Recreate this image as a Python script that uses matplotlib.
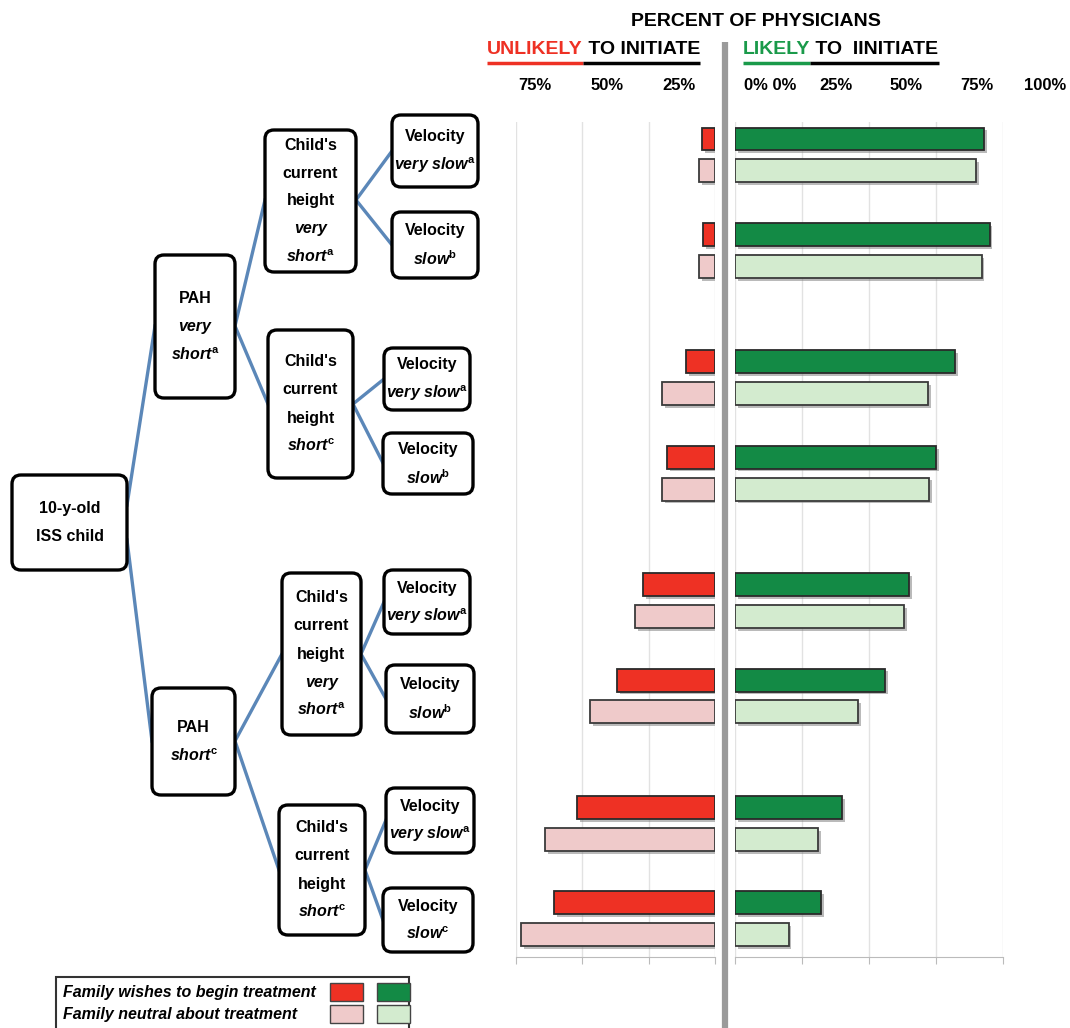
import matplotlib
matplotlib.use('Agg')
import matplotlib.pyplot as plt
import matplotlib.patheffects as pe
from matplotlib.patches import FancyBboxPatch, Rectangle

plt.rcParams['font.family'] = ['Liberation Sans', 'DejaVu Sans']
plt.rcParams['font.weight'] = 'bold'
plt.rcParams['mathtext.fontset'] = 'custom'
plt.rcParams['mathtext.rm'] = 'Liberation Sans:bold'
plt.rcParams['mathtext.it'] = 'Liberation Sans:italic:bold'
plt.rcParams['mathtext.bf'] = 'Liberation Sans:bold'

# data: percent of physicians, 8 scenarios (top to bottom)
unlikely_wish = [5, 4.5, 11, 18, 27, 37, 52, 60.5]
unlikely_neutral = [6, 6, 20, 20, 30, 47, 64, 73]
likely_wish = [93, 95, 82, 75, 65, 56, 40, 32]
likely_neutral = [90, 92, 72, 72.5, 63, 46, 31, 20]

left_ticks = ['75%', '50%', '25%']
right_ticks = ['0% 0%', '25%', '50%', '75%', '100%']
legend_labels = ['Family wishes to begin treatment', 'Family neutral about treatment']

c_red, c_pink = '#ee3124', '#efcaca'
c_dgreen, c_lgreen = '#138a45', '#d3ebcf'
c_line = '#5b87b8'

W, H = 1070, 1028
fig = plt.figure(figsize=(W / 100, H / 100), dpi=100)
bg = fig.add_axes([0, 0, 1, 1])
bg.set_xlim(0, W); bg.set_ylim(H, 0); bg.axis('off')


def rect(x0, y0, x1, y1):
    return [x0 / W, 1 - y1 / H, (x1 - x0) / W, (y1 - y0) / H]


pos = [g + 0.335 * (g // 2) for g in range(8)]
d_pos = [p - 0.167 for p in pos]
n_pos = [p + 0.167 for p in pos]
shadow = [pe.SimplePatchShadow(offset=(2, -2), shadow_rgbFace='#777777', alpha=0.5), pe.Normal()]

axl = fig.add_axes(rect(516, 122, 715, 957))
axr = fig.add_axes(rect(735, 122, 1003, 957))
for ax, lim, ticks in [(axl, (75, 0), [0, 25, 50, 75]), (axr, (0, 100), [0, 25, 50, 75, 100])]:
    ax.set_xlim(*lim)
    ax.set_ylim(pos[-1] + 0.4, -0.345)
    ax.set_xticks(ticks)
    ax.set_xticklabels([])
    ax.set_yticks([])
    ax.tick_params(axis='x', length=5, color='#bbbbbb', direction='out')
    for s in ['top', 'left', 'right']:
        ax.spines[s].set_visible(False)
    ax.spines['bottom'].set_color('#bbbbbb')
    ax.grid(axis='x', color='#e2e2e2', lw=1)
    ax.set_axisbelow(True)
    ax.patch.set_alpha(0)

for ax, a, b, ca, cb in [(axl, unlikely_wish, unlikely_neutral, c_red, c_pink),
                         (axr, likely_wish, likely_neutral, c_dgreen, c_lgreen)]:
    bars1 = ax.barh(d_pos, a, height=0.24, color=ca, edgecolor='#2a2a2a', lw=1.3)
    bars2 = ax.barh(n_pos, b, height=0.24, color=cb, edgecolor='#3a3a3a', lw=1.3)
    for bar in list(bars1) + list(bars2):
        bar.set_path_effects(shadow)

# center divider
bg.plot([725, 725], [42, H], color='#9a9a9a', lw=4.5, solid_capstyle='butt')

# header
bg.text(756, 22, 'PERCENT OF PHYSICIANS', ha='center', va='center', fontsize=14)
fig.canvas.draw()
rend = fig.canvas.get_renderer()


def header(x, parts, y=50):
    # parts: (text, colour); underline drawn below each part in its colour
    for txt, col in parts:
        t = bg.text(x, y, txt, color=col, ha='left', va='center', fontsize=14)
        bb = t.get_window_extent(rend)
        w = bb.width
        bg.plot([x, x + w], [63, 63], color=col, lw=2.5, solid_capstyle='butt')
        x += w


header(487, [('UNLIKELY', c_red), (' TO INITIATE', 'black')])
header(743, [('LIKELY', '#1a9a4a'), (' TO  IINITIATE', 'black')])

for lab, x in zip(left_ticks, [535, 607, 679]):
    bg.text(x, 85, lab, ha='center', va='center', fontsize=12)
for lab, x in zip(right_ticks, [770, 836, 906, 977, 1045]):
    bg.text(x, 85, lab, ha='center', va='center', fontsize=12)


def box(x0, y0, x1, y1, lines, step=28):
    bg.add_patch(FancyBboxPatch((x0, y0), x1 - x0, y1 - y0,
                                boxstyle='round,pad=0,rounding_size=9',
                                fc='white', ec='black', lw=2.4, zorder=3))
    cy = (y0 + y1) / 2
    top = cy - step * (len(lines) - 1) / 2
    for i, (txt, it) in enumerate(lines):
        bg.text((x0 + x1) / 2, top + i * step, txt, ha='center', va='center',
                fontsize=11.5, style='italic' if it else 'normal', zorder=4)


def link(p, q):
    bg.plot([p[0], q[0]], [p[1], q[1]], color=c_line, lw=2.4, zorder=2)


sa = '$^{\\rm a}$'
sb = '$^{\\rm b}$'
sc = '$^{\\rm c}$'

box(12, 475, 127, 570, [('10-y-old', False), ('ISS child', False)])
box(155, 255, 235, 398, [('PAH', False), ('very', True), ('short' + sa, True)])
box(152, 688, 235, 795, [('PAH', False), ('short' + sc, True)])
box(265, 130, 356, 272, [("Child's", False), ('current', False), ('height', False),
                         ('very', True), ('short' + sa, True)])
box(268, 330, 353, 478, [("Child's", False), ('current', False), ('height', False),
                         ('short' + sc, True)])
box(282, 573, 361, 735, [("Child's", False), ('current', False), ('height', False),
                         ('very', True), ('short' + sa, True)])
box(279, 805, 365, 935, [("Child's", False), ('current', False), ('height', False),
                         ('short' + sc, True)])

vel = [(392, 115, 478, 187, 'very slow' + sa), (392, 212, 478, 278, 'slow' + sb),
       (384, 348, 470, 410, 'very slow' + sa), (383, 433, 473, 494, 'slow' + sb),
       (384, 570, 470, 634, 'very slow' + sa), (386, 665, 474, 733, 'slow' + sb),
       (386, 788, 474, 853, 'very slow' + sa), (383, 888, 473, 952, 'slow' + sc)]
for x0, y0, x1, y1, s in vel:
    box(x0, y0, x1, y1, [('Velocity', False), (s, True)])

link((127, 505), (155, 326))
link((127, 540), (152, 741))
link((235, 326), (265, 200))
link((235, 326), (268, 404))
link((235, 741), (282, 654))
link((235, 741), (279, 870))
link((356, 200), (392, 151))
link((356, 200), (392, 245))
link((353, 404), (384, 379))
link((353, 404), (383, 463))
link((361, 654), (384, 602))
link((361, 654), (386, 699))
link((365, 870), (386, 820))
link((365, 870), (383, 920))

# legend
bg.add_patch(Rectangle((56, 977), 353, 60, fc='white', ec='#333333', lw=1.5, zorder=3))
for i, lab in enumerate(legend_labels):
    y = 992 + i * 22
    bg.text(63, y, lab, ha='left', va='center', fontsize=11.5, style='italic', zorder=4)
    for x, c in [(330, [c_red, c_pink][i]), (377, [c_dgreen, c_lgreen][i])]:
        bg.add_patch(Rectangle((x, y - 9), 33, 18, fc=c, ec='#444444', lw=1, zorder=4))

fig.savefig('out.png', dpi=100)
